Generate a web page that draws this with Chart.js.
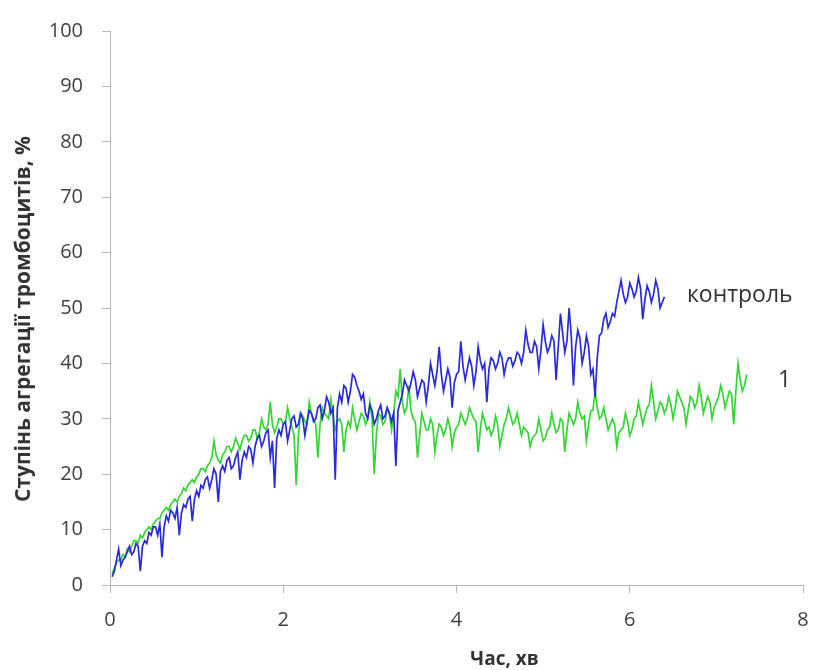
<!DOCTYPE html>
<html>
<head>
<meta charset="utf-8">
<script src="https://cdn.jsdelivr.net/npm/chart.js@4"></script>
<style>
html,body{margin:0;padding:0;background:#fff;}
#wrap{width:813px;height:670px;position:relative;}
</style>
</head>
<body>
<div id="wrap"><canvas id="c" width="813" height="670"></canvas></div>
<script>
// ---- data ----
const timeStart = 0.025;   // min
const timeStep = 0.025;    // min, sampling interval

// "контроль" (blue), 0.025 ... 6.40 min
const controlValues = [
  1.5, 2.5, 4.5, 6.5, 3.5, 4.5, 5, 6, 7, 5.5,
  6, 7.5, 7, 2.5, 7, 8, 7.5, 9.5, 9, 10.5,
  10.5, 9, 11, 5, 10.5, 12.5, 11.5, 13.5, 13, 12,
  14, 9, 13, 14.5, 14, 15.5, 16, 11.5, 15.5, 17,
  16, 18, 17.5, 19, 19.5, 17.5, 19, 21, 20, 15,
  20.5, 21.5, 20.5, 22.5, 23, 21, 21.5, 23, 24, 19,
  22.5, 24, 23, 25, 24.5, 22, 25, 26.5, 27, 25,
  26, 27.5, 28, 23, 26, 17.5, 26.5, 28, 27, 29,
  29.5, 26, 28, 30, 30.5, 28.5, 29, 31, 30, 27,
  29.5, 31.5, 31, 29.5, 30, 32, 32.5, 30, 31.5, 34,
  33, 31, 32, 19, 32, 34.5, 33, 36, 35.5, 33,
  35, 38, 37.5, 36, 35, 33.5, 34.5, 31, 30, 32.5,
  31.5, 29, 30, 31.5, 32.5, 30, 30.5, 32, 31, 29.5,
  31, 21.5, 31.5, 33, 34.5, 37, 36, 35, 36.5, 38.5,
  37, 34, 35.5, 37, 36.5, 33, 36, 40, 38, 36,
  38.5, 43, 38, 35, 37, 39, 37.5, 32, 36.5, 38,
  38.5, 44, 39.5, 37, 39, 41, 39.5, 36, 38.5, 43,
  40.5, 39, 40, 33, 39, 41, 40.5, 39, 40, 42,
  41, 38, 40, 41, 41, 39.5, 40.5, 42, 41.5, 40,
  42, 46, 43.5, 42, 42, 44, 43, 39, 42.5, 47,
  44, 42, 43, 45, 44, 37, 43, 49, 45.5, 42,
  44, 50, 45, 36, 43, 46, 44.5, 40, 42, 45,
  43, 38, 39, 34, 41, 45, 45.5, 48, 49, 46.5,
  47.5, 49, 48.5, 51, 53, 55, 52.5, 51, 52, 54.5,
  53.5, 52, 53, 55.5, 53.5, 48, 51.5, 54, 53, 51,
  52.5, 55, 53.5, 50, 51, 52
];

// "1" (green), 0.025 ... 7.35 min
const sample1Values = [
  2, 3, 4, 4.5, 4.5, 5.5, 5, 6.5, 6, 7,
  8, 8, 7.5, 9, 8.5, 9.5, 10, 10.5, 10, 11,
  11.5, 12, 12, 13, 13.5, 14, 13.5, 14.5, 15, 15.5,
  15, 16, 16.5, 17.5, 17, 18, 18.5, 19, 18.5, 19.5,
  20, 21, 21, 20.5, 21.5, 22, 23, 26, 23.5, 22.5,
  22, 23.5, 24, 25, 25, 24, 25, 26.5, 25.5, 24.5,
  26, 27, 27, 26, 26.5, 28, 28, 26.5, 27.5, 30,
  28.5, 28, 29, 33, 29, 27.5, 28.5, 30, 30, 29,
  29.5, 32, 30, 28.5, 27, 18, 27, 31, 30.5, 29.5,
  29, 33, 31, 30, 29, 23, 29, 32, 31, 30.5,
  30, 33.5, 30.5, 28, 29.5, 30, 29, 24, 28, 29.5,
  28.5, 32, 30, 28, 29.5, 31, 30.5, 29, 30, 33,
  30, 20, 27, 31, 30.5, 29, 29.5, 32, 31, 28,
  31, 35, 34, 39, 33, 31, 32, 36, 31.5, 30,
  29.5, 23, 27, 31, 29.5, 28, 28, 30, 29, 24,
  27, 29, 28.5, 27, 28, 30, 28.5, 25, 27.5, 28.5,
  29, 31, 30, 29, 30, 32, 31, 30, 29.5, 24,
  28, 31, 29.5, 28, 28.5, 27, 28, 30.5, 29, 25,
  27, 29, 30, 32, 30.5, 29, 29.5, 31, 29, 27,
  28.5, 28, 27.5, 25, 26.5, 27, 27.5, 30, 28, 26,
  26.5, 28, 28.5, 31, 29, 27.5, 28, 30, 29.5, 24,
  28, 31, 30, 29, 30, 33, 31, 30, 30.5, 26,
  29, 31.5, 31.5, 35, 32, 30, 30.5, 32, 30, 28,
  29, 30, 29, 25, 27.5, 28, 28.5, 31, 29.5, 27,
  28, 30, 30.5, 33, 31, 29, 30.5, 32, 32.5, 36,
  33, 30, 31.5, 33, 32.5, 31, 32, 34, 32.5, 30,
  32, 35, 34, 33, 32, 29, 31.5, 34, 33.5, 32,
  33, 36, 34, 31, 32.5, 34, 33, 30, 32, 33,
  34, 36, 34.5, 32, 33.5, 35, 34.5, 29, 35, 40,
  37, 35, 36, 38
];

const xTicks = [0, 2, 4, 6, 8];
const yTicks = [0, 10, 20, 30, 40, 50, 60, 70, 80, 90, 100];
const seriesNames = ['контроль', '1'];
const xTitle = 'Час, хв';
const yTitle = 'Ступінь агрегації тромбоцитів, %';

// ---- build points ----
function toPoints(vals) {
  return vals.map((v, i) => ({ x: +(timeStart + i * timeStep).toFixed(4), y: v }));
}

const labelPlugin = {
  id: 'seriesLabels',
  afterDatasetsDraw(chart) {
    const ctx = chart.ctx;
    const xs = chart.scales.x, ys = chart.scales.y;
    const ca = chart.chartArea;
    ctx.save();
    // series labels at the right end of each curve
    ctx.fillStyle = '#333333';
    ctx.font = '23px "Open Sans", sans-serif';
    ctx.textBaseline = 'middle';
    ctx.textAlign = 'left';
    ctx.fillText(seriesNames[0], xs.getPixelForValue(6.66), ys.getPixelForValue(52.3));
    ctx.fillText(seriesNames[1], xs.getPixelForValue(7.71), ys.getPixelForValue(37));
    // x axis title
    ctx.font = 'bold 19px "Open Sans", sans-serif';
    ctx.textAlign = 'center';
    ctx.fillText(xTitle, (ca.left + ca.right) / 2 + 48, ca.bottom + 75);
    // y axis title
    ctx.translate(24, (ca.top + ca.bottom) / 2 + 11);
    ctx.rotate(-Math.PI / 2);
    ctx.font = 'bold 21px "Open Sans", sans-serif';
    ctx.fillText(yTitle, 0, 0);
    ctx.restore();
  }
};

const axisColor = '#b8b8b8';
const tickFont = { family: '"Open Sans", sans-serif', size: 20 };

new Chart(document.getElementById('c'), {
  type: 'line',
  data: {
    datasets: [
      {
        label: seriesNames[0],
        data: toPoints(controlValues),
        borderColor: '#2a2ad8',
        borderWidth: 1.7,
        pointRadius: 0,
        tension: 0,
        fill: false
      },
      {
        label: seriesNames[1],
        data: toPoints(sample1Values),
        borderColor: '#33d633',
        borderWidth: 1.7,
        pointRadius: 0,
        tension: 0,
        fill: false
      }
    ]
  },
  options: {
    responsive: false,
    animation: false,
    layout: { padding: { top: 25, right: 10, bottom: 0, left: 0 } },
    plugins: { legend: { display: false }, tooltip: { enabled: false } },
    scales: {
      x: {
        type: 'linear',
        min: xTicks[0],
        max: xTicks[xTicks.length - 1],
        afterBuildTicks(scale) { scale.ticks = xTicks.map(v => ({ value: v })); },
        ticks: { color: '#404040', font: tickFont, padding: 15, maxRotation: 0 },
        grid: { drawOnChartArea: false, drawTicks: true, tickLength: 8, color: axisColor },
        border: { color: axisColor, width: 1 },
        afterFit(scale) {
          scale.height = 85;
          scale.paddingLeft = 0;
          scale.paddingRight = 0;
        }
      },
      y: {
        type: 'linear',
        min: yTicks[0],
        max: yTicks[yTicks.length - 1],
        afterBuildTicks(scale) { scale.ticks = yTicks.map(v => ({ value: v })); },
        ticks: { color: '#404040', font: tickFont, padding: 19 },
        grid: { drawOnChartArea: false, drawTicks: true, tickLength: 8, color: axisColor },
        border: { color: axisColor, width: 1 },
        title: { display: false, text: yTitle },
        afterFit(scale) { scale.width = 110; }
      }
    }
  },
  plugins: [labelPlugin]
});
</script>
</body>
</html>
